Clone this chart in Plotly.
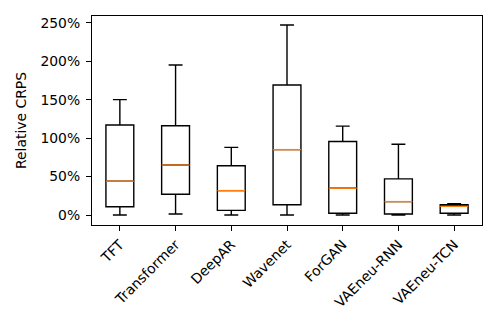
import plotly.graph_objects as go

# --- data (percent) ---
models = ["TFT", "Transformer", "DeepAR", "Wavenet", "ForGAN", "VAEneu-RNN", "VAEneu-TCN"]
whisker_low = [0.0, 1.3, 0.0, 0.0, 0.0, 0.0, 0.0]
q1 = [10.8, 27.0, 6.0, 13.4, 2.2, 1.3, 2.2]
median = [44.0, 65.0, 31.7, 85.0, 34.8, 17.4, 11.3]
q3 = [117.0, 116.0, 64.0, 169.0, 95.6, 47.0, 13.4]
whisker_high = [150.0, 195.0, 88.0, 247.0, 115.6, 92.0, 14.7]
y_ticks = [0, 50, 100, 150, 200, 250]

positions = list(range(1, len(models) + 1))
box_w = 0.5
lw = 1.4
font = dict(family="DejaVu Sans", size=13.9, color="black")

fig = go.Figure()

fig.add_trace(go.Box(
    x=positions,
    q1=q1, median=median, q3=q3,
    lowerfence=whisker_low, upperfence=whisker_high,
    width=box_w, whiskerwidth=0.5,
    boxpoints=False,
    fillcolor="white",
    line=dict(color="black", width=lw),
    showlegend=False,
    hoverinfo="skip",
))

# orange median lines on top of the boxes
mx, my = [], []
for p, m in zip(positions, median):
    mx += [p - box_w / 2, p + box_w / 2, None]
    my += [m, m, None]
fig.add_trace(go.Scatter(
    x=mx, y=my, mode="lines",
    line=dict(color="#ff7f0e", width=lw),
    showlegend=False, hoverinfo="skip",
))

# page body has an 8px default margin, so the figure is 8px smaller
fig.update_layout(
    width=490, height=324,
    margin=dict(l=84, r=16, t=8, b=107),
    paper_bgcolor="white", plot_bgcolor="white",
    font=font,
)
fig.update_xaxes(
    range=[0.5, len(models) + 0.5],
    tickvals=positions, ticktext=models, tickangle=-45,
    ticks="outside", ticklen=5, tickwidth=1.1, tickcolor="black",
    showline=True, linecolor="black", linewidth=1.1, mirror=True,
    showgrid=False, zeroline=False, tickfont=font, automargin=False,
)
fig.update_yaxes(
    range=[-13.0, 258.8],
    tickvals=y_ticks, ticktext=[f"{v}%" for v in y_ticks],
    ticks="outside", ticklen=5, tickwidth=1.1, tickcolor="black",
    showline=True, linecolor="black", linewidth=1.1, mirror=True,
    showgrid=False, zeroline=False, tickfont=font, automargin=False,
    ticklabelstandoff=3,
    title=dict(text="Relative CRPS", font=font, standoff=10),
)

fig.write_html("out.html")
